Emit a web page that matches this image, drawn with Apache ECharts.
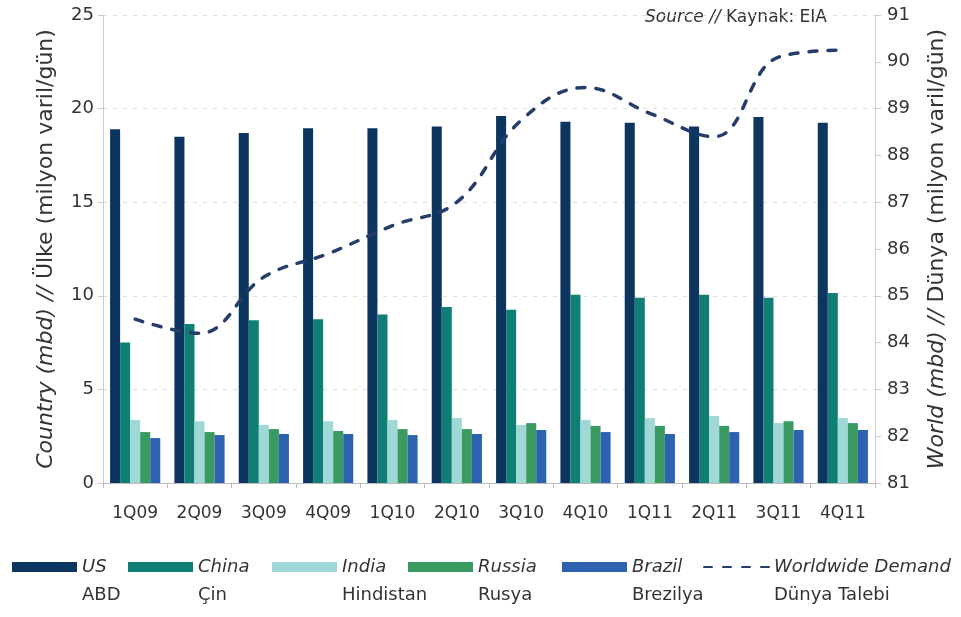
<!DOCTYPE html>
<html>
<head>
<meta charset="utf-8">
<script src="https://cdn.jsdelivr.net/npm/echarts@6/dist/echarts.min.js"></script>
<style>
	html, body { margin: 0; padding: 0; background: #fff; }
	#chart { width: 961px; height: 617px; }
</style>
</head>
<body>
<div id="chart"></div>
<script>
// quarters on the x axis
var quarters = ['1Q09', '2Q09', '3Q09', '4Q09', '1Q10', '2Q10', '3Q10', '4Q10', '1Q11', '2Q11', '3Q11', '4Q11'];

// country demand, mbd (left axis)
var usData     = [18.9, 18.5, 18.7, 18.95, 18.95, 19.05, 19.6, 19.3, 19.25, 19.05, 19.55, 19.25];
var chinaData  = [7.5, 8.5, 8.7, 8.75, 9.0, 9.4, 9.25, 10.05, 9.9, 10.05, 9.9, 10.15];
var indiaData  = [3.37, 3.3, 3.1, 3.3, 3.37, 3.47, 3.1, 3.37, 3.47, 3.58, 3.2, 3.47];
var russiaData = [2.72, 2.72, 2.88, 2.78, 2.88, 2.88, 3.2, 3.05, 3.05, 3.05, 3.3, 3.2];
var brazilData = [2.4, 2.56, 2.62, 2.62, 2.56, 2.62, 2.83, 2.72, 2.62, 2.72, 2.83, 2.83];

// worldwide demand, mbd (right axis)
var worldData  = [84.5, 84.2, 85.4, 85.9, 86.5, 87.0, 88.75, 89.45, 88.9, 88.4, 90.1, 90.25];

// legend names: english / turkish
var trNames = { 'US': 'ABD', 'China': 'Çin', 'India': 'Hindistan', 'Russia': 'Rusya', 'Brazil': 'Brezilya', 'Worldwide Demand': 'Dünya Talebi' };

var txt = '#333';
var font = 'DejaVu Sans';
var lineColor = '#263c6b';

var chart = echarts.init(document.getElementById('chart'));

function barSeries(name, data, color) {
	return {
		name: name,
		type: 'bar',
		data: data,
		barGap: '0%',
		barCategoryGap: '22%',
		itemStyle: { color: color }
	};
}

// one legend per item, placed like the original
function legendAt(name, left, isLine) {
	var lg = {
		data: [{ name: name, icon: isLine ? undefined : 'rect' }],
		left: left,
		top: 530,
		padding: 0,
		itemWidth: 65,
		itemHeight: 10,
		selectedMode: false,
		formatter: function (n) {
			return '{sp| }\n{en|' + n + '}\n{tr|' + trNames[n] + '}';
		},
		textStyle: {
			rich: {
				sp: { fontSize: 18, lineHeight: 28, fontFamily: font },
				en: { fontSize: 18, lineHeight: 28, fontStyle: 'italic', color: txt, fontFamily: font },
				tr: { fontSize: 18, lineHeight: 28, color: txt, fontFamily: font }
			}
		}
	};
	if (isLine) {
		lg.itemStyle = { opacity: 0 };
	}
	return lg;
}

var option = {
	backgroundColor: '#fff',
	animation: false,
	grid: { left: 103, right: 86, top: 15, bottom: 134 },
	legend: [
		legendAt('US', 12),
		legendAt('China', 128),
		legendAt('India', 272),
		legendAt('Russia', 408),
		legendAt('Brazil', 562),
		legendAt('Worldwide Demand', 703, true)
	],
	graphic: [{
		type: 'text',
		left: 645,
		top: 9,
		style: {
			text: '{i|Source // }{n|Kaynak: EIA}',
			rich: {
				i: { fontSize: 17, fontStyle: 'italic', fill: txt, fontFamily: font },
				n: { fontSize: 17, fill: txt, fontFamily: font }
			}
		}
	}],
	xAxis: {
		type: 'category',
		data: quarters,
		axisLine: { lineStyle: { color: '#bbb' } },
		axisTick: { show: true, length: 5, lineStyle: { color: '#bbb' } },
		axisLabel: { color: txt, fontSize: 17, fontFamily: font, margin: 22 }
	},
	yAxis: [{
		type: 'value',
		min: 0,
		max: 25,
		interval: 5,
		name: '{i|Country (mbd) // }{n|Ülke (milyon varil/gün)}',
		nameLocation: 'middle',
		nameGap: 46,
		nameRotate: 90,
		nameTextStyle: {
			rich: {
				i: { fontSize: 22, fontStyle: 'italic', color: txt, fontFamily: font },
				n: { fontSize: 22, color: txt, fontFamily: font }
			}
		},
		axisLine: { show: true, lineStyle: { color: '#ccc' } },
		axisTick: { show: true, length: 5, lineStyle: { color: '#ccc' } },
		axisLabel: { color: txt, fontSize: 18, fontFamily: font, margin: 9 },
		splitLine: { show: true, lineStyle: { color: '#ddd', type: [4, 6] } }
	}, {
		type: 'value',
		min: 81,
		max: 91,
		interval: 1,
		position: 'right',
		name: '{i|World (mbd) // }{n|Dünya (milyon varil/gün)}',
		nameLocation: 'middle',
		nameGap: 51,
		nameRotate: 90,
		nameTextStyle: {
			rich: {
				i: { fontSize: 22, fontStyle: 'italic', color: txt, fontFamily: font },
				n: { fontSize: 22, color: txt, fontFamily: font }
			}
		},
		axisLine: { show: true, lineStyle: { color: '#ccc' } },
		axisTick: { show: true, length: 6, lineStyle: { color: '#ccc' } },
		axisLabel: { color: txt, fontSize: 18, fontFamily: font, margin: 12 },
		splitLine: { show: false }
	}],
	series: [
		barSeries('US', usData, '#0c355f'),
		barSeries('China', chinaData, '#0f7f76'),
		barSeries('India', indiaData, '#9fd8d6'),
		barSeries('Russia', russiaData, '#3b9a62'),
		barSeries('Brazil', brazilData, '#2c62b0'),
		{
			name: 'Worldwide Demand',
			type: 'line',
			yAxisIndex: 1,
			data: worldData,
			smooth: 0.4,
			symbol: 'none',
			lineStyle: { color: lineColor, width: 3.5, type: [8, 11], cap: 'round' },
			itemStyle: { color: lineColor },
			z: 5
		}
	]
};

chart.setOption(option);
</script>
</body>
</html>
